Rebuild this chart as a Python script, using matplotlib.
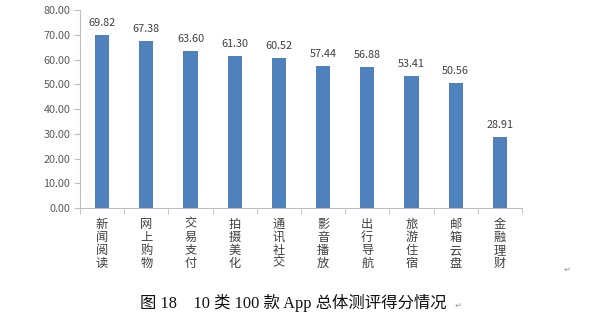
import numpy as np
import matplotlib.pyplot as plt
from matplotlib.ticker import FixedLocator

categories = ['新闻阅读', '网上购物', '交易支付', '拍摄美化', '通讯社交',
              '影音播放', '出行导航', '旅游住宿', '邮箱云盘', '金融理财']
scores = [69.82, 67.38, 63.60, 61.30, 60.52, 57.44, 56.88, 53.41, 50.56, 28.91]
yticks = [0, 10, 20, 30, 40, 50, 60, 70, 80]
caption = '图 18    10 类 100 款 App 总体测评得分情况'

cjk = ['Noto Sans CJK SC', 'DejaVu Sans']
grey = '#595959'
axis_col = '#bfbfbf'

fig = plt.figure(figsize=(6, 3.34), dpi=100)
ax = fig.add_axes([0.1333, 0.377, 0.7367, 0.593])

x = np.arange(len(categories))
ax.bar(x, scores, width=0.32, color='#4f81bd', zorder=2)

for xi, v in zip(x, scores):
    ax.annotate(f'{v:.2f}', (xi, v), xytext=(0, 5), textcoords='offset points',
                ha='center', va='bottom', fontsize=7.8, color='#404040',
                family=cjk)

ax.set_xlim(-0.5, len(categories) - 0.5)
ax.set_ylim(0, 80)
ax.set_yticks(yticks)
ax.set_yticklabels([f'{t:.2f}' for t in yticks], fontsize=7.8, color=grey,
                   family=cjk)

ax.set_xticks(x)
ax.set_xticklabels(['\n'.join(c) for c in categories], fontsize=8.8,
                   color='#404040', family=cjk, linespacing=1.0, va='top')
ax.xaxis.set_minor_locator(FixedLocator(np.arange(-0.5, len(categories), 1)))
ax.tick_params(axis='x', which='major', length=0, pad=7)
ax.tick_params(axis='x', which='minor', length=4, color=axis_col)
ax.tick_params(axis='y', length=4, color=axis_col, pad=3)

for s in ['top', 'right']:
    ax.spines[s].set_visible(False)
for s in ['left', 'bottom']:
    ax.spines[s].set_color(axis_col)
    ax.spines[s].set_linewidth(0.8)

# figure caption below the chart, with the paragraph marks
fig.text(0.2333, 0.093, caption, ha='left', va='center', fontsize=11.8,
         color='#111111', family=['Liberation Serif', 'Noto Sans CJK SC'])
fig.text(0.758, 0.085, '↵', ha='left', va='center', fontsize=6, color='#999999')
fig.text(0.94, 0.195, '↵', ha='left', va='center', fontsize=6, color='#999999')

fig.savefig('out.png', dpi=100)
